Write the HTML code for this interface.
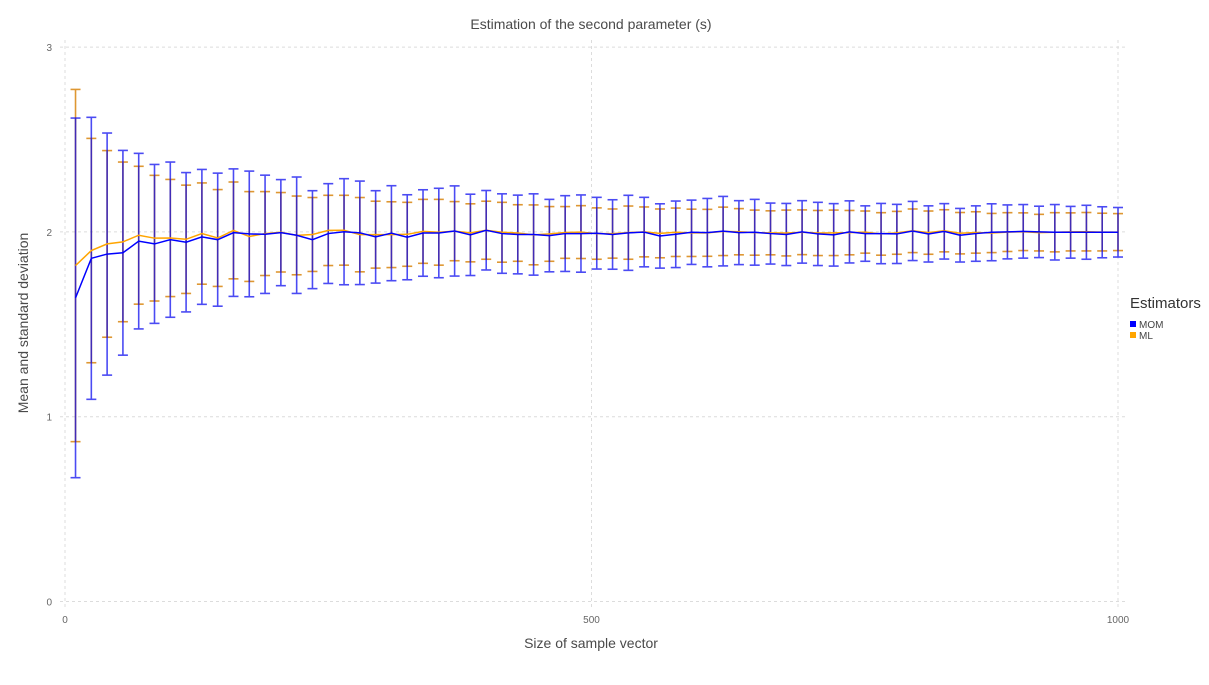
<!DOCTYPE html>
<html><head><meta charset="utf-8"><style>
body{margin:0;background:#fff;width:1209px;height:680px;overflow:hidden;font-family:"Liberation Sans",sans-serif}
svg text{font-family:"Liberation Sans",sans-serif}
</style></head><body>
<svg id="chart" width="1209" height="680" xmlns="http://www.w3.org/2000/svg">
<text x="591" y="29" text-anchor="middle" font-size="14" fill="#4a4a4a">Estimation of the second parameter (s)</text>
<text transform="translate(28,323) rotate(-90)" text-anchor="middle" font-size="14" fill="#4a4a4a">Mean and standard deviation</text>
<text x="591" y="648" text-anchor="middle" font-size="14" fill="#4a4a4a">Size of sample vector</text>
<g id="grid"></g>
<g id="marks"></g>
<g>
<text x="1130" y="308" font-size="15" fill="#333">Estimators</text>
<rect x="1130" y="321" width="6" height="6" fill="#0000ff"/>
<text x="1139" y="328" font-size="10" fill="#444">MOM</text>
<rect x="1130" y="332" width="6" height="6" fill="#ffa500"/>
<text x="1139" y="339" font-size="10" fill="#444">ML</text>
</g>
</svg>
<script>
const sampleSizes = Array.from({length:67},(_,k)=>10+15*k);
const momMean = [1.643,1.857,1.88,1.887,1.95,1.935,1.958,1.944,1.973,1.958,1.996,1.989,1.987,1.996,1.982,1.958,1.991,2.001,1.995,1.973,1.993,1.971,1.994,1.994,2.005,1.984,2.009,1.991,1.986,1.986,1.98,1.991,1.991,1.993,1.986,1.995,1.999,1.978,1.987,1.998,1.996,2.004,1.996,1.998,1.991,1.986,2.0,1.989,1.984,2.0,1.991,1.991,1.989,2.005,1.989,2.003,1.982,1.991,1.998,2.0,2.003,2.0,1.998,1.998,1.998,1.998,1.998];
const momSd = [0.973,0.763,0.655,0.554,0.475,0.43,0.42,0.377,0.365,0.36,0.345,0.34,0.32,0.287,0.315,0.265,0.27,0.287,0.28,0.25,0.257,0.23,0.234,0.242,0.244,0.22,0.215,0.215,0.213,0.22,0.196,0.205,0.209,0.194,0.188,0.203,0.188,0.174,0.18,0.174,0.185,0.188,0.173,0.178,0.165,0.168,0.169,0.171,0.169,0.168,0.15,0.163,0.16,0.16,0.152,0.15,0.145,0.15,0.154,0.146,0.145,0.139,0.15,0.14,0.146,0.138,0.134];
const mlMean = [1.818,1.899,1.935,1.946,1.982,1.966,1.967,1.96,1.991,1.967,2.008,1.975,1.991,1.998,1.981,1.986,2.008,2.009,1.985,1.985,1.985,1.987,2.003,1.998,2.004,1.995,2.009,1.998,1.994,1.984,1.989,1.997,1.999,1.991,1.991,1.996,2.0,1.992,1.998,1.995,1.995,2.003,2.001,1.996,1.995,1.994,1.998,1.994,1.995,1.996,1.999,1.989,1.995,2.006,1.996,2.006,1.993,1.997,1.994,1.999,2.001,1.996,1.998,2.0,2.001,1.999,1.999];
const mlSd = [0.953,0.607,0.505,0.432,0.373,0.34,0.317,0.293,0.274,0.262,0.262,0.243,0.227,0.215,0.213,0.2,0.19,0.189,0.201,0.181,0.178,0.173,0.173,0.178,0.16,0.157,0.157,0.162,0.153,0.162,0.148,0.14,0.143,0.139,0.133,0.144,0.135,0.132,0.131,0.128,0.127,0.131,0.125,0.122,0.119,0.124,0.121,0.122,0.123,0.12,0.114,0.115,0.116,0.118,0.117,0.114,0.112,0.112,0.106,0.105,0.102,0.099,0.106,0.103,0.104,0.102,0.1];
const xTicks = [0,500,1000];
const yTicks = [0,1,2,3];

const NS='http://www.w3.org/2000/svg';
const X = v => 65 + v*1.053;
const Y = v => 601.5 - v*184.8;
function mk(tag, attrs, parent){const e=document.createElementNS(NS,tag);for(const k in attrs)e.setAttribute(k,attrs[k]);parent.appendChild(e);return e;}
const grid=document.getElementById('grid'), marks=document.getElementById('marks');
yTicks.forEach(t=>{
  const l=mk('line',{x1:60,x2:1126,y1:Y(t),y2:Y(t),stroke:'#dcdcdc','stroke-dasharray':'3,3'},grid);
  
  
  const tx=mk('text',{x:52,y:Y(t)+4,'text-anchor':'end','font-size':10,fill:'#666'},grid);
  tx.textContent=t;
  
  
});
xTicks.forEach(t=>{
  const l=mk('line',{x1:X(t),x2:X(t),y1:40,y2:608,stroke:'#dcdcdc','stroke-dasharray':'3,3'},grid);
  
  
  const tx=mk('text',{x:X(t),y:623,'text-anchor':'middle','font-size':10,fill:'#666'},grid);
  tx.textContent=t;
  
  
});
function bars(mean,sd,color,opacity,name){
  sampleSizes.forEach((n,i)=>{
    const x=X(n), t=Y(mean[i]+sd[i]), b=Y(mean[i]-sd[i]);
    const g=mk('g',{stroke:color,'stroke-width':1.6,opacity:opacity},marks);
    
    
    mk('line',{x1:x,x2:x,y1:t,y2:b},g);
    mk('line',{x1:x-5,x2:x+5,y1:t,y2:t},g);
    mk('line',{x1:x-5,x2:x+5,y1:b,y2:b},g);
  });
}
bars(mlMean,mlSd,'#d9860f',0.85,'ml');
bars(momMean,momSd,'#0000ee',0.7,'mom');
function line(mean,color,name){
  const p=mk('polyline',{points:sampleSizes.map((n,i)=>X(n)+','+Y(mean[i])).join(' '),fill:'none',stroke:color,'stroke-width':1.5},marks);
  
  
}
line(mlMean,'#ffa500','ml');
line(momMean,'#0000ff','mom');
</script>
</body></html>
